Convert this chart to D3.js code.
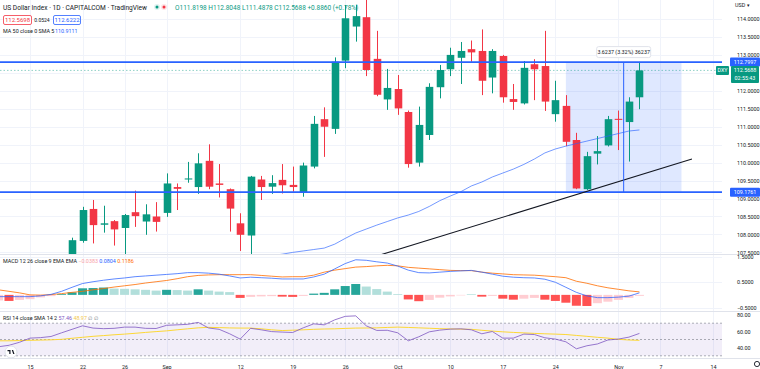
<!DOCTYPE html>
<html>
<head>
<meta charset="utf-8">
<script src="https://cdn.jsdelivr.net/npm/d3@7"></script>
<style>
  body { margin: 0; background: #fff; }
  svg { display: block; font-family: Roboto, "Noto Sans", sans-serif; }
</style>
</head>
<body>
<script>
"use strict";

// ----------------------------------------
//  Data
// ----------------------------------------
const tickDates  = ["2022-08-15","2022-08-22","2022-08-26","2022-09-01","2022-09-12","2022-09-19","2022-09-26",
                    "2022-10-03","2022-10-10","2022-10-17","2022-10-24","2022-11-01","2022-11-07","2022-11-14"];
const tickLabels = ["15","22","26","Sep","12","19","26","Oct","10","17","24","Nov","7","14"];

// 112.5 sits under the last-price badge, so it is left out
const priceTicks = [107.5,108,108.5,109,109.5,110,110.5,111,111.5,112,113,113.5,114];
const macdTicks  = [1.5, 0.5, -0.5];
const rsiTicks   = [80, 60, 40];

// daily candles, 2022-08-19 .. 2022-11-03
const opens  = [107.35,107.82,108.71,108.27,108.37,108.18,108.62,108.36,108.50,108.60,109.32,109.53,109.32,110.05,109.42,
                109.26,108.31,107.97,109.53,109.33,109.52,109.38,109.18,109.89,111.21,110.94,112.84,113.79,114.05,112.89,
                111.76,112.05,111.41,110.00,110.77,112.10,112.60,112.92,113.16,113.11,112.37,112.97,111.77,111.65,112.74,
                112.69,111.35,111.58,110.63,109.26,110.25,110.48,111.22,111.13,111.8198];
const highs  = [107.91,108.77,108.96,108.80,108.40,108.57,109.22,108.84,108.90,109.70,109.42,110.02,110.26,110.51,109.96,
                109.28,108.59,109.63,109.63,109.65,109.96,109.89,110.00,111.30,111.54,112.93,114.39,114.39,114.70,113.67,
                112.61,112.44,111.45,111.56,112.21,112.72,113.20,113.36,113.40,113.71,113.16,113.00,112.19,112.83,112.88,
                113.67,112.28,111.88,110.83,110.30,110.74,111.30,111.45,111.82,112.8048];
const lows   = [107.20,107.77,107.75,108.05,107.69,107.45,108.21,107.99,108.08,108.49,108.68,109.44,109.13,109.26,109.03,
                108.08,107.54,107.45,108.96,109.13,109.14,109.19,109.05,109.84,110.16,110.80,112.63,113.37,112.41,111.85,
                111.47,111.33,109.86,109.89,110.63,111.79,112.41,112.19,112.81,111.88,111.93,111.67,111.47,111.62,111.74,
                111.44,111.14,110.46,109.26,109.24,109.95,110.45,110.35,110.03,111.4878];
const closes = [107.84,108.68,108.26,108.31,108.14,108.54,108.51,108.56,108.35,109.42,109.27,109.56,109.98,109.33,109.38,
                108.72,107.99,109.61,109.32,109.43,109.37,109.32,109.92,111.08,111.00,112.81,114.02,114.08,112.58,111.89,
                112.08,111.51,109.96,111.05,112.11,112.58,113.00,113.11,113.07,112.28,113.11,111.82,111.69,112.64,112.60,
                111.70,111.74,110.58,109.28,110.18,110.32,111.21,111.19,111.70,112.5688];

// MA 50, 2022-09-15 .. 2022-11-03
const ma50 = [107.41,107.45,107.50,107.54,107.58,107.62,107.73,107.89,108.04,108.15,108.26,108.36,108.46,108.54,108.64,
              108.78,108.94,109.07,109.19,109.35,109.46,109.60,109.71,109.82,109.95,110.10,110.27,110.38,110.46,110.53,
              110.60,110.67,110.74,110.81,110.88,110.91];

// indicators, 2022-08-10 .. 2022-11-03
const macdLine = [-0.07,-0.07,-0.07,-0.07,-0.04,0.02,0.14,0.30,0.45,0.52, 0.58,0.63,0.67,0.72,0.75,0.78,0.81,0.84,0.88,0.88,
                  0.86,0.82,0.75,0.67,0.70,0.68,0.66,0.63,0.63,0.63, 0.71,0.82,1.03,1.24,1.39,1.37,1.31,1.26,1.14,0.98,
                  0.88,0.87,0.90,0.93,0.95,0.97,0.90,0.82,0.74,0.70, 0.68,0.67,0.62,0.50,0.30,0.10,-0.04,-0.11,-0.11,-0.09,
                  -0.05,0.0804];
const signalLine = [0.20,0.14,0.08,0.00,-0.01,0.01,0.05,0.10,0.14,0.20, 0.25,0.31,0.36,0.41,0.47,0.52,0.57,0.64,0.72,0.77,
                    0.79,0.80,0.80,0.80,0.80,0.77,0.74,0.71,0.72,0.72, 0.78,0.90,0.98,1.04,1.10,1.12,1.15,1.17,1.15,1.09,
                    1.06,1.03,1.00,0.97,0.96,0.96,0.90,0.86,0.83,0.80, 0.79,0.78,0.75,0.72,0.68,0.54,0.46,0.36,0.28,0.22,
                    0.16,0.1186];
const histogram = [-0.22,-0.24,-0.20,-0.17,-0.10,-0.05,0.03,0.10,0.26,0.27, 0.29,0.25,0.24,0.22,0.20,0.17,0.20,0.19,0.17,0.22,
                   0.17,0.13,0.11,-0.12,-0.08,-0.06,-0.05,-0.07,-0.08,-0.04, 0.05,0.08,0.22,0.35,0.43,0.33,0.23,0.13,0.03,-0.18,
                   -0.25,-0.20,-0.11,-0.06,-0.02,0.01,-0.07,-0.04,-0.15,-0.19, -0.15,-0.12,-0.19,-0.24,-0.31,-0.43,-0.44,-0.33,-0.27,-0.20,
                   -0.12,-0.0383];
const rsi   = [41.1,42.9,46.6,51.7,52.3,53.7,58.2,62.5,66.8,64.0, 63.3,63.7,65.2,65.2,63.7,63.5,67.4,68.0,68.6,71.0,
               64.1,62.5,57.0,50.5,63.7,61.9,59.7,59.1,58.6,64.3, 69.2,68.0,74.1,78.4,79.0,66.8,61.1,61.3,58.2,48.4,
               53.3,59.4,61.5,62.7,63.1,61.9,57.0,59.8,51.7,51.7, 56.6,56.1,52.1,50.5,47.2,38.6,42.3,44.5,49.4,50.5,
               52.9,57.46];
const rsiMa = [48.4,48.4,48.7,49.0,49.3,49.6,50.2,51.5,52.7,53.9, 54.8,55.8,56.6,57.6,58.7,59.7,60.6,61.9,63.1,64.3,
               64.9,64.6,64.2,64.0,64.0,63.1,61.9,61.0,61.4,61.9, 62.5,62.9,63.1,63.6,64.0,64.1,64.3,64.8,65.2,64.8,
               64.3,63.8,63.3,63.0,62.7,62.5,61.3,60.3,59.4,58.7, 58.1,57.5,57.0,56.6,56.1,55.0,53.9,52.7,51.7,50.2,
               49.4,48.97];

// drawings
const levels     = [112.7997, 109.1761];
const lastClose  = 112.5688;
const trendLine  = [["2022-09-29", 107.40], ["2022-11-10", 110.10]];
const rangeBox   = {from: "2022-10-25", to: "2022-11-09", low: 109.1761, high: 112.7997};
const rangeLabel = "3.6237 (3.32%) 36237";

// ----------------------------------------
//  Layout
// ----------------------------------------
const W = 760, H = 369;
const plotRight = 722;
const mainPane = {top: 0,   bottom: 254};
const macdPane = {top: 254, bottom: 311};
const rsiPane  = {top: 311, bottom: 358};

const up = "#089981", down = "#f23645", blue = "#2962ff";
const fmtDay = d3.timeFormat("%Y-%m-%d");

// every trading day (Mon-Fri) on the axis
const allDates = d3.timeDay.range(new Date(2022, 7, 10), new Date(2022, 10, 19))
    .filter(d => d.getDay() % 6 !== 0).map(fmtDay);
const candleDates = allDates.slice(allDates.indexOf("2022-08-19"), allDates.indexOf("2022-11-03") + 1);
const maDates     = allDates.slice(allDates.indexOf("2022-09-15"), allDates.indexOf("2022-11-03") + 1);
const indDates    = allDates.slice(0, allDates.indexOf("2022-11-03") + 1);

// ----------------------------------------
//  Scales
// ----------------------------------------
let x = d3.scalePoint().domain(allDates).range([-1.5, 755]);
let yPrice = d3.scaleLinear().domain([107.5, 114]).range([252.4, 19]);
let yMacd  = d3.scaleLinear().domain([-0.5, 1.5]).range([307.5, 257]);
let yRsi   = d3.scaleLinear().domain([30, 70]).range([355.8, 323.2]);

const svg = d3.select("body").append("svg").attr("width", W).attr("height", H);
const defs = svg.append("defs");
[["cMain", mainPane], ["cMacd", macdPane], ["cRsi", rsiPane]].forEach(([id, p]) => {
    defs.append("clipPath").attr("id", id).append("rect")
        .attr("x", 0).attr("y", p.top).attr("width", plotRight).attr("height", p.bottom - p.top);
});

// ----------------------------------------
//  Grid + pane separators
// ----------------------------------------
const grid = svg.append("g").attr("stroke", "#f0f3fa").attr("stroke-width", 1);
grid.selectAll(".vg").data(tickDates).join("line")
    .attr("x1", d => Math.round(x(d)) + 0.5).attr("x2", d => Math.round(x(d)) + 0.5)
    .attr("y1", 0).attr("y2", rsiPane.bottom);
grid.selectAll(".hg").data(priceTicks.concat([112.5])).join("line")
    .attr("x1", 0).attr("x2", plotRight)
    .attr("y1", d => Math.round(yPrice(d)) + 0.5).attr("y2", d => Math.round(yPrice(d)) + 0.5);
grid.selectAll(".mg").data(macdTicks).join("line")
    .attr("x1", 0).attr("x2", plotRight)
    .attr("y1", d => Math.round(yMacd(d)) + 0.5).attr("y2", d => Math.round(yMacd(d)) + 0.5);

svg.append("g").attr("stroke", "#e0e3eb").selectAll("line")
    .data([mainPane.bottom, macdPane.bottom, rsiPane.bottom]).join("line")
    .attr("x1", 0).attr("x2", W).attr("y1", d => d + 0.5).attr("y2", d => d + 0.5);

// ----------------------------------------
//  Main pane
// ----------------------------------------
const main = svg.append("g").attr("clip-path", "url(#cMain)");

// date/price range box
main.append("rect")
    .attr("x", x(rangeBox.from)).attr("width", x(rangeBox.to) - x(rangeBox.from))
    .attr("y", yPrice(rangeBox.high)).attr("height", yPrice(rangeBox.low) - yPrice(rangeBox.high))
    .attr("fill", blue).attr("fill-opacity", 0.15);

// last price dashed line
main.append("line")
    .attr("x1", 0).attr("x2", plotRight)
    .attr("y1", yPrice(lastClose)).attr("y2", yPrice(lastClose))
    .attr("stroke", up).attr("stroke-opacity", 0.45).attr("stroke-dasharray", "1.5,2");

const candles = candleDates.map((d, i) => ({date: d, o: opens[i], h: highs[i], l: lows[i], c: closes[i]}));
const bw = x.step() * 0.72;
const cx = d => Math.round(x(d.date)) + 0.5;
const col = d => d.c >= d.o ? up : down;

main.selectAll(".wick").data(candles).join("line")
    .attr("x1", cx).attr("x2", cx)
    .attr("y1", d => yPrice(d.h)).attr("y2", d => yPrice(d.l))
    .attr("stroke", col).attr("stroke-width", 1);
main.selectAll(".body").data(candles).join("rect")
    .attr("x", d => cx(d) - bw / 2).attr("width", bw)
    .attr("y", d => yPrice(Math.max(d.o, d.c)))
    .attr("height", d => Math.max(1, Math.abs(yPrice(d.o) - yPrice(d.c))))
    .attr("fill", col);

// MA 50
main.append("path").datum(ma50)
    .attr("fill", "none").attr("stroke", blue).attr("stroke-opacity", 0.65).attr("stroke-width", 1)
    .attr("d", d3.line().x((d, i) => x(maDates[i])).y(d => yPrice(d)));

// horizontal levels
main.selectAll(".lvl").data(levels).join("line")
    .attr("x1", 0).attr("x2", plotRight)
    .attr("y1", d => yPrice(d)).attr("y2", d => yPrice(d))
    .attr("stroke", blue).attr("stroke-width", 1.8);

// trend line
main.append("line")
    .attr("x1", x(trendLine[0][0])).attr("y1", yPrice(trendLine[0][1]))
    .attr("x2", x(trendLine[1][0])).attr("y2", yPrice(trendLine[1][1]))
    .attr("stroke", "#131722").attr("stroke-width", 1.1);

// range box centre line + label
const midX = (x(rangeBox.from) + x(rangeBox.to)) / 2;
main.append("line")
    .attr("x1", midX).attr("x2", midX)
    .attr("y1", yPrice(rangeBox.high)).attr("y2", yPrice(rangeBox.low))
    .attr("stroke", blue).attr("stroke-width", 1);
const lab = svg.append("g").attr("transform", `translate(${midX},${yPrice(rangeBox.high) - 10})`);
lab.append("rect").attr("x", -27).attr("y", -5.5).attr("width", 54).attr("height", 11).attr("rx", 2)
    .attr("fill", "#fff").attr("stroke", "#e0e3eb");
lab.append("text").attr("text-anchor", "middle").attr("dy", "0.35em")
    .attr("font-size", 5.4).attr("fill", "#131722").text(rangeLabel);

// ----------------------------------------
//  MACD pane
// ----------------------------------------
const macd = svg.append("g").attr("clip-path", "url(#cMacd)");
const hb = x.step() * 0.86;
macd.selectAll(".bar").data(histogram).join("rect")
    .attr("x", (d, i) => x(indDates[i]) - hb / 2).attr("width", hb)
    .attr("y", d => yMacd(Math.max(0, d)))
    .attr("height", d => Math.abs(yMacd(d) - yMacd(0)))
    .attr("fill", (d, i) => {
        const prev = i > 0 ? histogram[i - 1] : d;
        if (d >= 0) return d >= prev ? "#26a69a" : "#b2dfdb";
        return d < prev ? "#ff5252" : "#ffcdd2";
    });
const lineGen = (arr, ys) => d3.line().x((d, i) => x(indDates[i])).y(d => ys(d))(arr);
macd.append("path").attr("d", lineGen(signalLine, yMacd)).attr("fill", "none").attr("stroke", "#ff6d00").attr("stroke-opacity", 0.8);
macd.append("path").attr("d", lineGen(macdLine, yMacd)).attr("fill", "none").attr("stroke", blue).attr("stroke-opacity", 0.75);

// ----------------------------------------
//  RSI pane
// ----------------------------------------
const rsiG = svg.append("g").attr("clip-path", "url(#cRsi)");
rsiG.append("rect").attr("x", 0).attr("width", plotRight)
    .attr("y", yRsi(70)).attr("height", yRsi(30) - yRsi(70))
    .attr("fill", "#7e57c2").attr("fill-opacity", 0.1);
rsiG.selectAll(".band").data([70, 50, 30]).join("line")
    .attr("x1", 0).attr("x2", plotRight)
    .attr("y1", d => yRsi(d)).attr("y2", d => yRsi(d))
    .attr("stroke", "#787b86").attr("stroke-opacity", 0.6).attr("stroke-dasharray", "2,2");
rsiG.append("path").attr("d", lineGen(rsiMa, yRsi)).attr("fill", "none").attr("stroke", "#fdd835").attr("stroke-width", 1);
rsiG.append("path").attr("d", lineGen(rsi, yRsi)).attr("fill", "none").attr("stroke", "#7e57c2").attr("stroke-opacity", 0.8).attr("stroke-width", 1);

// ----------------------------------------
//  Axes
// ----------------------------------------
function styleAxis(g) {
    g.select(".domain").remove();
    g.selectAll(".tick line").remove();
    g.selectAll("text").attr("fill", "#131722").attr("font-size", 5.4).attr("font-family", "Roboto, sans-serif");
}
svg.append("g").attr("transform", `translate(${plotRight + 12},0)`)
    .call(d3.axisRight(yPrice).tickValues(priceTicks).tickFormat(d3.format(".4f")).tickSize(0)).call(styleAxis);
svg.append("g").attr("transform", `translate(${plotRight + 12},0)`)
    .call(d3.axisRight(yMacd).tickValues(macdTicks).tickFormat(d3.format(".4f")).tickSize(0)).call(styleAxis);
svg.append("g").attr("transform", `translate(${plotRight + 12},0)`)
    .call(d3.axisRight(yRsi).tickValues(rsiTicks).tickFormat(d3.format(".2f")).tickSize(0)).call(styleAxis);
svg.append("g").attr("transform", `translate(0,${rsiPane.bottom + 4})`)
    .call(d3.axisBottom(x).tickValues(tickDates).tickFormat((d, i) => tickLabels[i]).tickSize(0)).call(styleAxis);

// price axis badges
function badge(yv, lines, fill, xl, w) {
    const g = svg.append("g");
    g.append("rect").attr("x", xl).attr("y", yPrice(yv) - 4.5).attr("width", w).attr("height", 8 * lines.length + 1)
        .attr("rx", 1).attr("fill", fill);
    lines.forEach((t, k) => g.append("text").attr("x", xl + w / 2).attr("y", yPrice(yv) + k * 8).attr("dy", "0.35em")
        .attr("text-anchor", "middle").attr("font-size", 5.4).attr("fill", "#fff").text(t));
}
badge(levels[0], [levels[0].toFixed(4)], blue, plotRight + 8, 30);
badge(levels[1], [levels[1].toFixed(4)], blue, plotRight + 8, 30);
badge(lastClose, [lastClose.toFixed(4), "02:55:43"], up, plotRight + 9, 28);
badge(lastClose, ["DXY"], up, plotRight - 6, 13);

svg.append("text").attr("x", plotRight + 13).attr("y", 7).attr("font-size", 5.4).attr("fill", "#131722").text("USD ▾");

// ----------------------------------------
//  Legends
// ----------------------------------------
const leg = svg.append("g").attr("font-size", 6);
leg.append("text").attr("x", 3).attr("y", 10).attr("font-size", 6.6).attr("fill", "#131722")
    .text("US Dollar Index · 1D · CAPITALCOM · TradingView");
[[157, "#e0f2f1", up], [164, "#fde4e6", down]].forEach(([cxp, bg, fg]) => {
    leg.append("circle").attr("cx", cxp).attr("cy", 7).attr("r", 3).attr("fill", bg);
    leg.append("circle").attr("cx", cxp).attr("cy", 7).attr("r", 1.5).attr("fill", fg);
});
leg.append("text").attr("x", 175).attr("y", 10).attr("font-size", 6.5).attr("fill", up)
    .text("O111.8198 H112.8048 L111.4878 C112.5688 +0.8860 (+0.78%)");

leg.append("rect").attr("x", 3.5).attr("y", 15.5).attr("width", 28).attr("height", 9).attr("rx", 1.5)
    .attr("fill", "#fff").attr("stroke", down).attr("stroke-opacity", 0.8);
leg.append("text").attr("x", 17.5).attr("y", 22).attr("text-anchor", "middle").attr("fill", down).text("112.5698");
leg.append("text").attr("x", 42).attr("y", 22).attr("text-anchor", "middle").attr("font-size", 5).attr("fill", "#131722").text("0.0524");
leg.append("rect").attr("x", 53.5).attr("y", 15.5).attr("width", 27).attr("height", 9).attr("rx", 1.5)
    .attr("fill", "#fff").attr("stroke", blue).attr("stroke-opacity", 0.8);
leg.append("text").attr("x", 67).attr("y", 22).attr("text-anchor", "middle").attr("fill", blue).text("112.6222");

leg.append("text").attr("x", 3).attr("y", 33).attr("font-size", 5.4).attr("fill", "#131722").text("MA 50 close 0 SMA 5");
leg.append("text").attr("x", 55).attr("y", 33).attr("font-size", 5.4).attr("fill", blue).text("110.9111");

const ml = leg.append("text").attr("x", 3).attr("y", 263).attr("font-size", 5.4).attr("fill", "#131722");
ml.append("tspan").text("MACD 12 26 close 9 EMA EMA ");
ml.append("tspan").attr("fill", "#f7a1a7").text(" " + d3.format(".4f")(histogram[histogram.length - 1]) + " ");
ml.append("tspan").attr("fill", blue).text(" " + macdLine[macdLine.length - 1].toFixed(4) + " ");
ml.append("tspan").attr("fill", "#ff6d00").text(" " + signalLine[signalLine.length - 1].toFixed(4));

const rl = leg.append("text").attr("x", 3).attr("y", 320).attr("font-size", 5.4).attr("fill", "#131722");
rl.append("tspan").text("RSI 14 close SMA 14 2 ");
rl.append("tspan").attr("fill", "#7e57c2").text(" " + rsi[rsi.length - 1].toFixed(2) + " ");
rl.append("tspan").attr("fill", "#f2c94c").text(" " + rsiMa[rsiMa.length - 1].toFixed(2) + " ");
rl.append("tspan").attr("fill", "#787b86").text(" ∅ ∅");

// TradingView logo + settings gear
const logo = svg.append("g").attr("transform", "translate(11,352)");
logo.append("circle").attr("r", 6).attr("fill", "#fff").attr("stroke", "#e0e3eb");
logo.append("path").attr("d", "M-3.5,-2 h3 v4 h-1.2 v-2.8 h-1.8 z M0.8,-2 h1.3 l1.4,4 h-1.3 z").attr("fill", "#131722");
svg.append("circle").attr("cx", 757).attr("cy", 364).attr("r", 2.6).attr("fill", "none").attr("stroke", "#131722").attr("stroke-width", 0.9);
</script>
</body>
</html>
